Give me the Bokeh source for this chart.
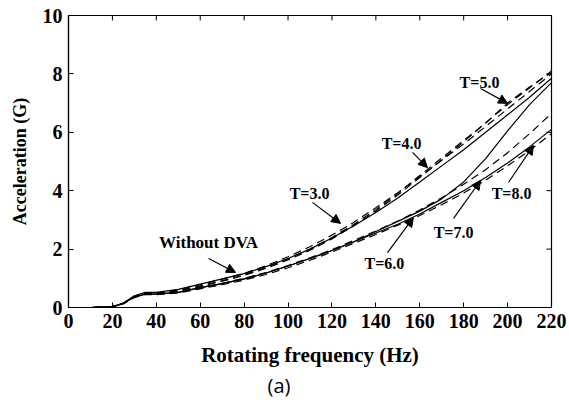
from bokeh.plotting import figure
from bokeh.models import FixedTicker, Range1d, Label, Arrow, NormalHead, Title
from bokeh.embed import file_html
from bokeh.resources import INLINE

# ---- data ----
freq = [0, 10, 15, 20, 25, 30, 35, 40, 50, 60, 70, 80, 90, 100, 110, 120,
        130, 140, 150, 160, 170, 180, 190, 200, 210, 220]

without_dva = [0, 0, 0.01, 0.03, 0.15, 0.4, 0.52, 0.52, 0.62, 0.8, 0.98, 1.16, 1.4,
               1.68, 2.0, 2.38, 2.8, 3.25, 3.75, 4.3, 4.85, 5.4, 6.0, 6.6, 7.2, 7.85]
t3 = [0, 0, 0.01, 0.03, 0.15, 0.38, 0.5, 0.5, 0.6, 0.78, 0.97, 1.17, 1.43,
      1.74, 2.08, 2.48, 2.92, 3.42, 3.93, 4.48, 5.04, 5.6, 6.2, 6.8, 7.4, 8.0]
t4 = [0, 0, 0.01, 0.03, 0.14, 0.37, 0.48, 0.48, 0.57, 0.74, 0.92, 1.12, 1.37,
      1.67, 2.0, 2.4, 2.85, 3.35, 3.9, 4.52, 5.12, 5.72, 6.32, 6.95, 7.52, 8.1]
t5 = [0, 0, 0.01, 0.03, 0.14, 0.36, 0.47, 0.47, 0.55, 0.72, 0.9, 1.1, 1.34,
      1.63, 1.96, 2.35, 2.8, 3.3, 3.85, 4.45, 5.05, 5.68, 6.32, 7.0, 7.55, 8.05]
t6 = [0, 0, 0.01, 0.02, 0.13, 0.34, 0.44, 0.44, 0.5, 0.64, 0.78, 0.94, 1.13,
      1.36, 1.62, 1.9, 2.2, 2.5, 2.82, 3.15, 3.52, 3.92, 4.36, 4.85, 5.38, 5.95]
t7 = [0, 0, 0.01, 0.02, 0.13, 0.35, 0.45, 0.45, 0.53, 0.68, 0.83, 1.0, 1.2,
      1.44, 1.7, 1.98, 2.3, 2.62, 2.96, 3.34, 3.76, 4.22, 4.72, 5.3, 5.95, 6.65]
t8 = [0, 0, 0.01, 0.02, 0.14, 0.36, 0.46, 0.46, 0.52, 0.68, 0.82, 0.98, 1.18,
      1.42, 1.68, 1.95, 2.25, 2.6, 2.95, 3.3, 3.72, 4.3, 5.1, 6.05, 6.95, 7.7]
lower_solid = [0, 0, 0.01, 0.02, 0.14, 0.36, 0.46, 0.46, 0.52, 0.68, 0.82, 0.98, 1.18,
               1.42, 1.68, 1.95, 2.25, 2.55, 2.85, 3.2, 3.6, 4.0, 4.45, 4.95, 5.5, 6.1]

x_ticks = [0, 20, 40, 60, 80, 100, 120, 140, 160, 180, 200, 220]
y_ticks = [0, 2, 4, 6, 8, 10]

labels = ["Without DVA", "T=3.0", "T=4.0", "T=5.0", "T=6.0", "T=7.0", "T=8.0"]
label_x = [63.8, 109.8, 151.7, 187.2, 143.9, 175.4, 201.8]
label_y = [2.23, 3.90, 5.62, 7.71, 1.51, 2.57, 3.90]
arrow_tail_x = [63.8, 111.1, 156.7, 187.7, 145.3, 175.4, 200.4]
arrow_tail_y = [1.68, 3.60, 5.31, 7.50, 1.88, 3.05, 4.28]
arrow_head_x = [76.1, 123.9, 163.5, 200.0, 157.1, 187.7, 211.8]
arrow_head_y = [1.20, 2.88, 4.79, 6.99, 3.08, 4.35, 5.55]

SERIF = "Liberation Serif"
X_MAX, Y_MAX = 220, 10

p = figure(width=569, height=406, output_backend="svg", toolbar_location=None,
           x_range=Range1d(0, X_MAX), y_range=Range1d(0, Y_MAX),
           min_border_left=68, min_border_right=18, min_border_top=15,
           min_border_bottom=99)
p.grid.visible = False
p.outline_line_color = "black"
p.outline_line_width = 1.2
p.background_fill_color = "white"
p.border_fill_color = "white"

series = [
    (without_dva, "solid"),
    (t3, "8 5"),
    (t4, "8 5"),
    (t5, "8 5"),
    (t6, "8 5"),
    (t7, "8 5"),
    (t8, "solid"),
    (lower_solid, "solid"),
]
for ys, dash in series:
    p.line(freq, ys, line_color="black", line_width=1.2, line_dash=dash)

xa = p.xaxis[0]
ya = p.yaxis[0]
xa.ticker = FixedTicker(ticks=x_ticks)
ya.ticker = FixedTicker(ticks=y_ticks)
for ax in (xa, ya):
    ax.axis_line_color = "black"
    ax.axis_line_width = 1.2
    ax.major_tick_in = 5
    ax.major_tick_out = 0
    ax.minor_tick_line_color = None
    ax.major_tick_line_color = "black"
    ax.major_label_text_font = SERIF
    ax.major_label_text_font_style = "bold"
    ax.major_label_text_color = "black"
    ax.major_label_text_font_size = "20px"
    ax.major_label_standoff = 6
    ax.axis_label_text_font = SERIF
    ax.axis_label_text_font_style = "bold"
    ax.axis_label_text_color = "black"
xa.axis_label = "Rotating frequency (Hz)"
ya.axis_label = "Acceleration (G)"
xa.axis_label_text_font_size = "21px"
ya.axis_label_text_font_size = "18px"
xa.axis_label_standoff = 12
ya.axis_label_standoff = 10

# inward ticks on the top and right edges of the box
p.segment(x0=x_ticks, y0=[Y_MAX] * len(x_ticks), x1=x_ticks,
          y1=[Y_MAX - 0.17] * len(x_ticks), line_color="black", line_width=1)
p.segment(x0=[X_MAX] * len(y_ticks), y0=y_ticks, x1=[X_MAX - 2.3] * len(y_ticks),
          y1=y_ticks, line_color="black", line_width=1)

for txt, lx, ly in zip(labels, label_x, label_y):
    size = "17px" if txt.startswith("Without") else "16px"
    p.add_layout(Label(x=lx, y=ly, text=txt, text_font=SERIF, text_font_style="bold",
                       text_font_size=size, text_align="center",
                       text_baseline="middle", text_color="black"))

for tx, ty, hx, hy in zip(arrow_tail_x, arrow_tail_y, arrow_head_x, arrow_head_y):
    p.add_layout(Arrow(x_start=tx, y_start=ty, x_end=hx, y_end=hy,
                       line_color="black", line_width=1.2,
                       end=NormalHead(size=9, fill_color="black", line_color="black")))

caption = Title(text="(a)", text_font="Open Sans", text_font_size="20px",
                text_font_style="normal", text_color="black", align="left",
                offset=199, standoff=0)
p.add_layout(caption, "below")

open("out.html", "w").write(file_html(p, INLINE))
